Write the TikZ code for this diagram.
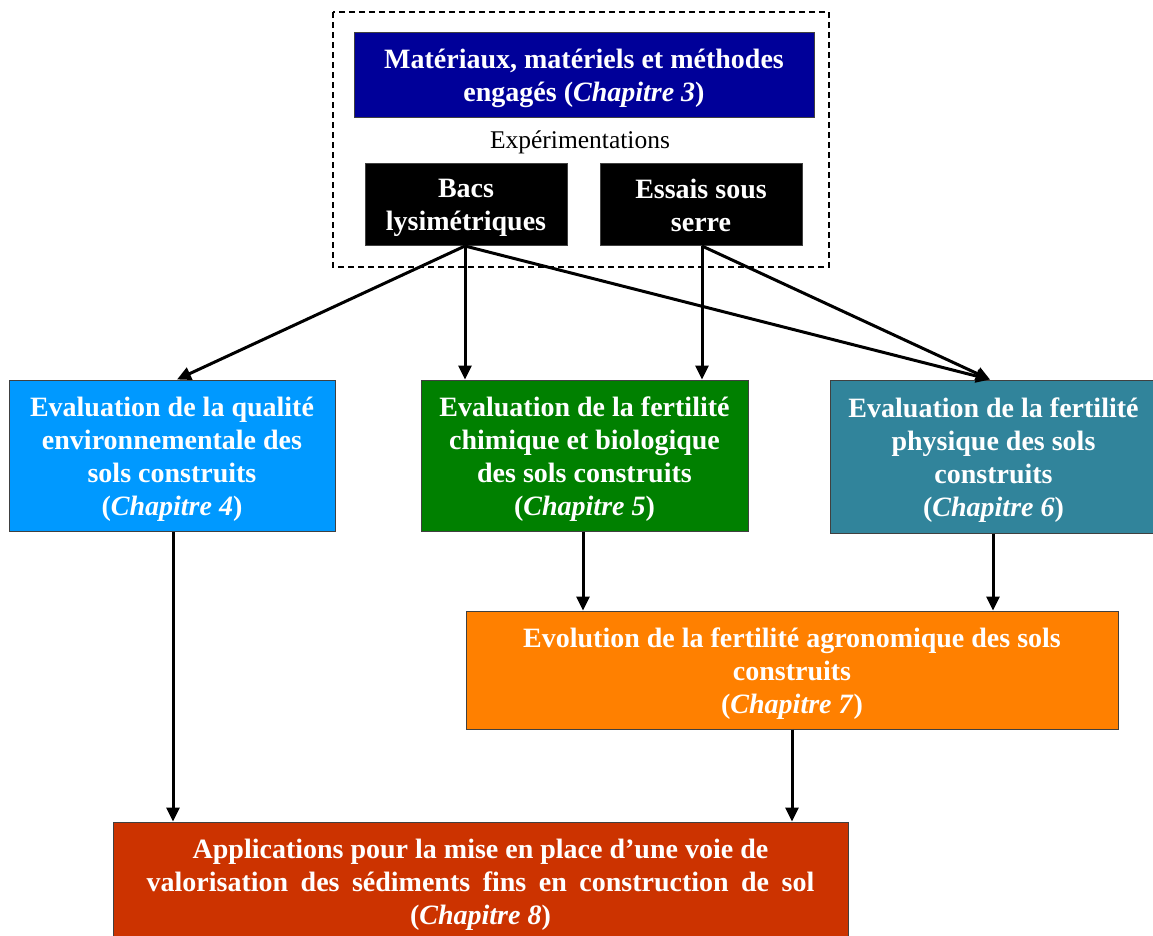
\documentclass[tikz,border=0pt]{standalone}
\usepackage{fontspec}
\setmainfont{Liberation Serif}
\usetikzlibrary{arrows.meta}
\definecolor{cnavy}{HTML}{000099}
\definecolor{cblue}{HTML}{0099FF}
\definecolor{cgreen}{HTML}{008000}
\definecolor{cteal}{HTML}{31849B}
\definecolor{corange}{HTML}{FF8000}
\definecolor{cred}{HTML}{CC3300}
\newcommand{\topstrut}{\rule{0pt}{27pt}}
\newcommand{\botstrut}{\rule[-6pt]{0pt}{6pt}}
\tikzset{
  boxstyle/.style={draw=black!75, line width=1pt, text=white, inner sep=0pt, align=center,
    font=\fontsize{28}{33}\selectfont\bfseries},
  arr/.style={line width=3pt, -{Triangle[length=14pt,width=13pt]}},
}
\begin{document}
\begin{tikzpicture}[x=1pt,y=-1pt]
\useasboundingbox (0,0) rectangle (1153,935);
\draw[line width=1.6pt, dash pattern=on 6pt off 4pt] (333,12) rectangle (829,267);
\node[boxstyle, fill=cnavy, minimum width=460pt, minimum height=85pt] (mat) at (584,74.5)
  {\topstrut Matériaux, matériels et méthodes\\engagés (\textit{Chapitre 3})};
\node[inner sep=0pt, font=\fontsize{25.5}{30}\selectfont] (exp) at (580,142) {Expérimentations};
\node[boxstyle, fill=black, minimum width=202pt, minimum height=82pt] (bacs) at (466,204)
  {\topstrut Bacs\\lysimétriques};
\node[boxstyle, fill=black, minimum width=202pt, minimum height=82pt] (essais) at (701,204)
  {\topstrut Essais sous\\serre\botstrut};
\node[boxstyle, fill=cblue, minimum width=326pt, minimum height=151pt] (b4) at (172,455.5)
  {\topstrut Evaluation de la qualité\\environnementale des\\sols construits\\(\textit{Chapitre 4})};
\node[boxstyle, fill=cgreen, minimum width=327pt, minimum height=151pt] (b5) at (584.5,455.5)
  {\topstrut Evaluation de la fertilité\\chimique et biologique\\des sols construits\\(\textit{Chapitre 5})};
\node[boxstyle, fill=cteal, minimum width=327pt, minimum height=153pt] (b6) at (993.5,456.5)
  {\topstrut Evaluation de la fertilité\\physique des sols\\construits\\(\textit{Chapitre 6})};
\node[boxstyle, fill=corange, minimum width=652pt, minimum height=118pt] (b7) at (792,670)
  {\topstrut Evolution de la fertilité agronomique des sols\\construits\\(\textit{Chapitre 7})};
\node[boxstyle, fill=cred, minimum width=735pt, minimum height=118pt] (b8) at (480.5,881)
  {\topstrut Applications pour la mise en place d’une voie de\\{\spaceskip=12.5pt valorisation des sédiments fins en construction de sol}\\(\textit{Chapitre 8})};
\coordinate (bs) at (465,246);
\coordinate (es) at (702,246);
\draw[arr] (bs) -- (b4.north -| 177,0);
\draw[arr] (bs) -- (b5.north -| 465,0);
\draw[arr] (bs) -- (b6.north -| 990,0);
\draw[arr] (es) -- (b5.north -| 702,0);
\draw[arr] (es) -- (b6.north -| 990,0);
\draw[arr] (b4.south -| 173,0) -- (b8.north -| 173,0);
\draw[arr] (b5.south -| 583,0) -- (b7.north -| 583,0);
\draw[arr] (b6.south -| 993,0) -- (b7.north -| 993,0);
\draw[arr] (b7.south -| 792,0) -- (b8.north -| 792,0);
\end{tikzpicture}
\end{document}
